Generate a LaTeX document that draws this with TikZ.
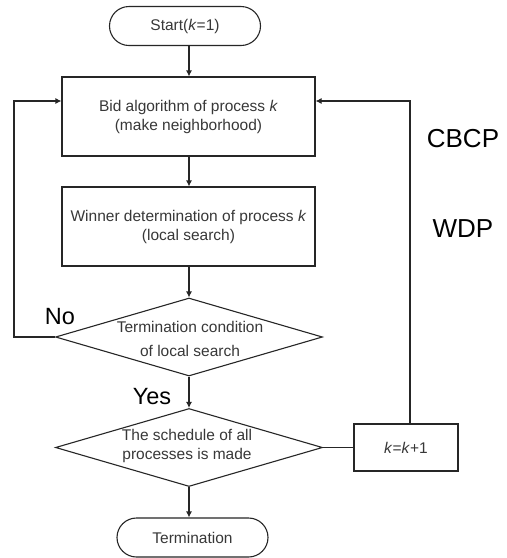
\documentclass[tikz,border=0pt]{standalone}
\usepackage{fontspec}
\setmainfont{Liberation Sans}
\usetikzlibrary{shapes.geometric,arrows.meta}
\begin{document}
\begin{tikzpicture}[x=1pt,y=-1pt,
  line width=1.1pt,
  every node/.style={font=\fontsize{15.5}{19}\selectfont, text=black!78},
  proc/.style={draw=black!85, rectangle, minimum width=253pt, minimum height=79pt, inner sep=0pt, align=center},
  term/.style={draw=black!85, rectangle, rounded corners=19.5pt, minimum width=151pt, minimum height=39pt, inner sep=0pt},
  dec/.style={draw=black!85, diamond, minimum width=267pt, minimum height=78pt, inner sep=0pt},
  dectext/.style={align=center, inner sep=0pt},
  big/.style={font=\fontsize{26}{30}\selectfont, text=black},
  mid/.style={font=\fontsize{23.5}{28}\selectfont, text=black},
  flow/.style={draw=black!85, -{Latex[length=6pt,width=6pt]}}
]
\useasboundingbox[fill=white] (0,0) rectangle (507,558);

\node[term] (start) at (185,26) {Start(\textit{k}=1)};
\node[proc] (b1) at (188.5,116.5) {Bid algorithm of process \textit{k}\\(make neighborhood)};
\node[proc] (b2) at (188.5,226.5) {Winner determination of process \textit{k}\\(local search)};
\node[dec] (d1) at (189,337) {};
\node[dectext, font=\fontsize{15.5}{23.5}\selectfont] (d1t) at (190,339) {Termination condition\\of local search};
\node[dec] (d2) at (189,447.5) {};
\node[dectext] (d2t) at (187,446) {The schedule of all\\processes is made};
\node[term] (end) at (192.5,537.5) {Termination};
\node[draw=black!85, rectangle, minimum width=104pt, minimum height=47pt, inner sep=0pt] (kb) at (406,447.5) {\textit{k}=\textit{k}+1};

\node[big] (cbcp) at (463,139) {CBCP};
\node[big] (wdp) at (463,229) {WDP};
\node[mid] (no) at (60,317) {No};
\node[mid] (yes) at (152,397) {Yes};

\draw[flow] (start.south -| d1.north) -- (b1.north -| d1.north);
\draw[flow] (b1.south -| d1.north) -- (b2.north -| d1.north);
\draw[flow] (b2.south -| d1.north) -- (d1.north);
\draw[flow] (d1.south) -- (d2.north);
\draw[flow] (d2.south) -- (end.north -| d2.south);
\draw[draw=black!85] (d2.east) -- (kb.west);
\draw[flow] ([xshift=4pt]kb.north) |- ([yshift=15.5pt]b1.east);
\draw[flow] (d1.west) -- ++(-41,0) |- ([yshift=15.5pt]b1.west);
\end{tikzpicture}
\end{document}
